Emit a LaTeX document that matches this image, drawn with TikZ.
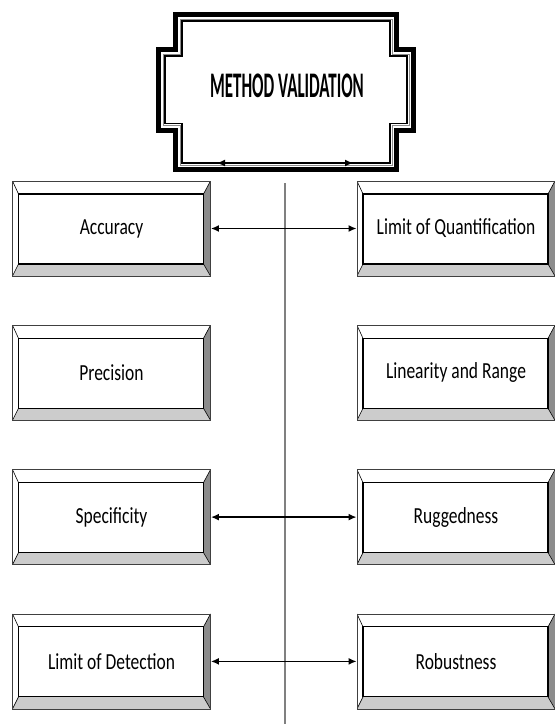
\documentclass[tikz,border=0pt]{standalone}
\usepackage{fontspec}
\usepackage{tikz}
\usepackage{xcolor}
\usetikzlibrary{arrows.meta, positioning, calc}

\newfontfamily\boxfont[FakeStretch=0.76]{Carlito}
\newfontfamily\titlefont[FakeStretch=0.47]{Carlito}

\definecolor{bevdark}{gray}{0.55}
\definecolor{bevlight}{gray}{0.80}

\begin{document}
\begin{tikzpicture}[x=1pt, y=-1pt,
  >={Latex[length=8pt,width=7pt]},
  link/.style={<->, line width=1.8pt, black},
  bevel/.style={draw=black!75, line width=0.8pt, fill=white,
    minimum width=198pt, minimum height=95pt, inner sep=0pt,
    font=\boxfont\fontsize{23}{27}\selectfont,
    path picture={
      \path (path picture bounding box.north west) coordinate (p1)
            (path picture bounding box.north east) coordinate (p2)
            (path picture bounding box.south east) coordinate (p3)
            (path picture bounding box.south west) coordinate (p4);
      \path ($(p1)+(6pt,-13pt)$) coordinate (q1)
            ($(p2)+(-7pt,-13pt)$) coordinate (q2)
            ($(p3)+(-7pt,12pt)$) coordinate (q3)
            ($(p4)+(6pt,12pt)$) coordinate (q4);
      \fill[bevdark] (p2) -- (p3) -- (q3) -- (q2) -- cycle;
      \fill[bevlight] (p4) -- (p3) -- (q3) -- (q4) -- cycle;
      \draw[black, line width=0.6pt] (p1) -- (q1) (p2) -- (q2) (p3) -- (q3) (p4) -- (q4);
      \draw[black, line width=1.1pt] (q1) rectangle (q3);
    }}]
\useasboundingbox (0,0) rectangle (555,724);

% Title plaque
\foreach \d/\w/\c in {0/5pt/black, 4.5/1pt/black!45, 6.5/1.1pt/black} {
  \draw[line width=\w, \c] (175.5+\d,14.5+\d) -- (396.5-\d,14.5+\d) -- (396.5-\d,49.5+\d)
    -- (413.5-\d,49.5+\d) -- (413.5-\d,130-\d) -- (396.5-\d,130-\d) -- (396.5-\d,169.5-\d)
    -- (175.5+\d,169.5-\d) -- (175.5+\d,130-\d) -- (158.5+\d,130-\d) -- (158.5+\d,49.5+\d)
    -- (175.5+\d,49.5+\d) -- cycle;
}
\node[font=\titlefont\bfseries\fontsize{36}{40}\selectfont] (title) at (287,86) {METHOD VALIDATION};
\coordinate (tl) at (217,163);
\coordinate (tr) at (353,163);
\draw[link, line width=1.1pt] (tl) -- (tr);

% Divider
\coordinate (vtop) at (285,183);
\coordinate (vbot) at (285,724);
\draw[black!50, line width=1.3pt] (vtop) -- (vbot);

% Parameter boxes
\foreach \nm/\txt [count=\i from 0] in {acc/Accuracy, prec/Precision, spec/Specificity, lod/Limit of Detection} {
  \node[bevel] (\nm) at (111.5, 228.5+144.3*\i) {\txt};
}
\foreach \nm/\txt [count=\i from 0] in {loq/Limit of Quantification, lin/Linearity and Range, rug/Ruggedness, rob/Robustness} {
  \node[bevel] (\nm) at (456, 228.5+144.3*\i) {\txt};
}

% Links
\draw[link] (acc.east) -- (loq.west);
\draw[link] (spec.east) -- (rug.west);
\draw[link] (lod.east) -- (rob.west);
\end{tikzpicture}
\end{document}
